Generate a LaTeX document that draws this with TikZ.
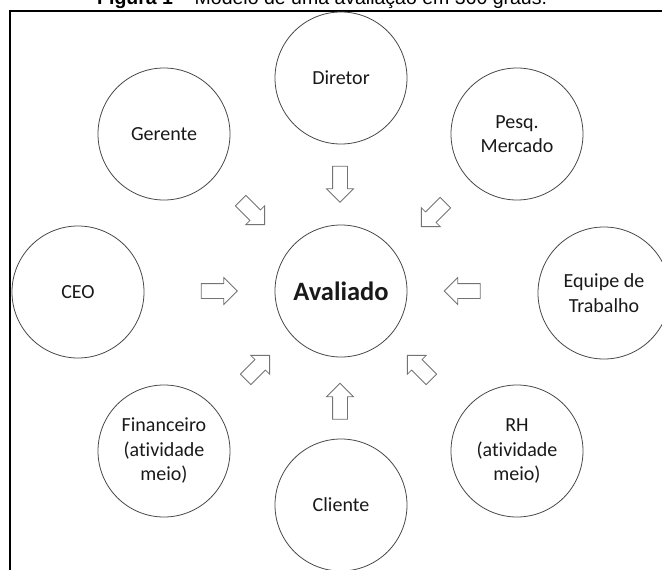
\documentclass[tikz,border=0pt]{standalone}
\usepackage{fontspec}
\setmainfont{Carlito}[Ligatures=NoCommon]
\newfontfamily\captionfont{Liberation Sans}
\usetikzlibrary{shapes.arrows}
\begin{document}
\begin{tikzpicture}[x=1pt,y=-1pt,
  member/.style={circle,draw=black!72,line width=0.8pt,minimum size=132pt,
    inner sep=0pt,align=center,text=black!90,
    font=\fontsize{20}{24.5}\selectfont},
  inflow/.style={single arrow,draw=black!55,line width=0.8pt,fill=white,
    minimum height=36pt,minimum width=26pt,inner sep=7pt,
    single arrow head extend=6pt}]
  \useasboundingbox (0,0) rectangle (662,570);
  \clip (0,0) rectangle (662,570);

  % caption line, partly above the frame
  \node[anchor=base west,inner sep=0pt,font=\captionfont\fontsize{19.5}{22}\selectfont]
    (caption) at (97,5) {\textbf{Figura 1 –} Modelo de uma avaliação em 360 graus.};

  % frame
  \draw[line width=2.2pt] (10,580) -- (10,11) -- (680,11);

  % evaluated person and evaluators
  \node[member] (avaliado) at (341,291) {\fontsize{26.5}{30}\selectfont\bfseries Avaliado};
  \node[member] (diretor) at (341,78) {Diretor};
  \node[member] (cliente) at (341,505) {Cliente};
  \node[member] (gerente) at (164,134) {Gerente};
  \node[member] (pesq) at (517,134) {Pesq.\\Mercado};
  \node[member] (ceo) at (78,292) {CEO};
  \node[member] (equipe) at (604,293) {Equipe de\\Trabalho};
  \node[member] (fin) at (164,451) {Financeiro\\(atividade\\meio)};
  \node[member] (rh) at (517,451) {RH\\(atividade\\meio)};

  % feedback arrows pointing at the evaluated person
  \node[inflow,rotate=-90] (a-diretor) at (340,180.5) {};
  \node[inflow,rotate=90] (a-cliente) at (340,405) {};
  \node[inflow,rotate=0] (a-ceo) at (215.5,291) {};
  \node[inflow,rotate=180] (a-equipe) at (466,291) {};
  \node[inflow,rotate=-45,minimum height=34pt] (a-gerente) at (250,210) {};
  \node[inflow,rotate=-135,minimum height=34pt] (a-pesq) at (436,212) {};
  \node[inflow,rotate=45,minimum height=34pt] (a-fin) at (255,370) {};
  \node[inflow,rotate=135,minimum height=34pt] (a-rh) at (422,370) {};
\end{tikzpicture}
\end{document}
